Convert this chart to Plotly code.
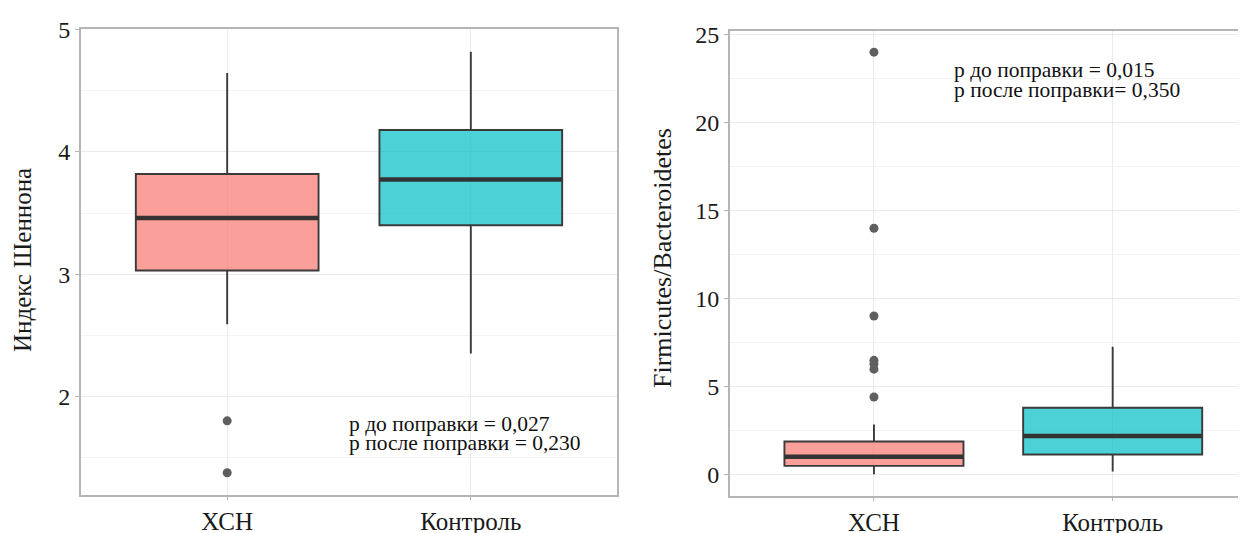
import plotly.graph_objects as go

# ---- data ----
categories = ["ХСН", "Контроль"]
colors_fill = ["rgba(248,118,109,0.7)", "rgba(0,191,196,0.7)"]

# Panel 1: Shannon index
sh_q1 = [3.03, 3.40]
sh_median = [3.46, 3.775]
sh_q3 = [3.82, 4.18]
sh_low = [2.59, 2.35]
sh_high = [4.646, 4.82]
sh_outliers = {"ХСН": [1.80, 1.375], "Контроль": []}

# Panel 2: Firmicutes/Bacteroidetes
fb_q1 = [0.51, 1.16]
fb_median = [1.03, 2.21]
fb_q3 = [1.89, 3.81]
fb_low = [0.04, 0.19]
fb_high = [2.86, 7.27]
fb_outliers = {"ХСН": [24.0, 14.0, 9.02, 6.5, 6.3, 6.0, 4.42], "Контроль": []}

p_text_1 = ["р до поправки = 0,027", "р после поправки = 0,230"]
p_text_2 = ["р до поправки = 0,015", "р после поправки= 0,350"]

FONT = "Liberation Serif"
LINE = "#3a3a3a"
BOX_W = 0.75
W, H = 1246, 533
OFF = 8  # page body margin offset

fig = go.Figure()
shapes = []


def add_panel(xa, ya, q1, med, q3, lo, hi, outl):
    for i, cat in enumerate(categories):
        fig.add_trace(go.Box(
            x=[cat], q1=[q1[i]], median=[med[i]], q3=[q3[i]],
            lowerfence=[lo[i]], upperfence=[hi[i]],
            fillcolor=colors_fill[i], line=dict(color=LINE, width=1.9),
            width=BOX_W, whiskerwidth=0, boxpoints=False,
            xaxis=xa, yaxis=ya, showlegend=False, hoverinfo="skip"))
        shapes.append(dict(type="line", xref=xa, yref=ya,
                           x0=i - BOX_W / 2, x1=i + BOX_W / 2,
                           y0=med[i], y1=med[i],
                           line=dict(color="#333333", width=4.5), layer="above"))
        if outl[cat]:
            fig.add_trace(go.Scatter(
                x=[cat] * len(outl[cat]), y=outl[cat], mode="markers",
                marker=dict(color="#5f5f5f", size=9),
                xaxis=xa, yaxis=ya, showlegend=False, hoverinfo="skip"))


add_panel("x", "y", sh_q1, sh_median, sh_q3, sh_low, sh_high, sh_outliers)
add_panel("x2", "y2", fb_q1, fb_median, fb_q3, fb_low, fb_high, fb_outliers)

GRID = "#ebebeb"
FRAME = "#b5b5b5"


def xdom(a, b):
    return [(a - OFF) / W, min(1.0, (b - OFF) / W)]


def ydom(top, bottom):
    return [1 - (bottom - OFF) / H, 1 - (top - OFF) / H]


xcommon = dict(type="category", categoryorder="array", categoryarray=categories,
               showgrid=True, gridcolor=GRID, gridwidth=1,
               showline=True, linecolor=FRAME, linewidth=2, mirror=True,
               ticks="outside", ticklen=3, tickcolor=FRAME,
               tickfont=dict(family=FONT, size=25, color="#1a1a1a"),
               zeroline=False, automargin=False)

ycommon = dict(showgrid=True, gridcolor=GRID, showline=True, linecolor=FRAME,
               linewidth=2, ticks="outside", ticklen=4, tickcolor=FRAME,
               tickfont=dict(family=FONT, size=24, color="#1a1a1a"),
               zeroline=False, automargin=False)

fig.update_layout(
    template="none",
    width=W, height=H,
    margin=dict(l=0, r=0, t=0, b=0),
    paper_bgcolor="white", plot_bgcolor="white",
    boxmode="overlay",
    xaxis=dict(domain=xdom(81, 617), range=[-0.6, 1.6], anchor="y", **xcommon),
    yaxis=dict(domain=ydom(29.4, 494.5), range=[1.197, 5.003], anchor="x",
               dtick=1, tick0=0, mirror=True,
               minor=dict(dtick=0.5, tick0=0, showgrid=True, gridcolor="#f3f3f3", ticklen=0),
               **ycommon),
    xaxis2=dict(domain=xdom(730, 1254), range=[-0.603, 1.592], anchor="y2", **xcommon),
    yaxis2=dict(domain=ydom(31, 496), range=[-1.2, 25.2], anchor="x2",
                dtick=5, tick0=0, mirror=False,
                minor=dict(dtick=2.5, tick0=0, showgrid=True, gridcolor="#f3f3f3", ticklen=0),
                **ycommon),
    shapes=shapes,
)

ann = []
# axis titles
ann.append(dict(text="Индекс Шеннона", xref="paper", yref="paper",
                x=(22 - OFF) / W, y=1 - (260 - OFF) / H, textangle=-90, showarrow=False,
                xanchor="center", yanchor="middle",
                font=dict(family=FONT, size=25, color="#1a1a1a")))
ann.append(dict(text="Firmicutes/Bacteroidetes", xref="paper", yref="paper",
                x=(662 - OFF) / W, y=1 - (258 - OFF) / H, textangle=-90, showarrow=False,
                xanchor="center", yanchor="middle",
                font=dict(family=FONT, size=26, color="#1a1a1a")))
# p-value texts
for txt, yv in zip(p_text_1, [1.774, 1.619]):
    ann.append(dict(text=txt, xref="x", yref="y", x=0.493, y=yv, showarrow=False,
                    xanchor="left", yanchor="middle",
                    font=dict(family=FONT, size=21.5, color="#111111")))
for txt, yv in zip(p_text_2, [22.98, 21.85]):
    ann.append(dict(text=txt, xref="x2", yref="y2", x=0.325, y=yv, showarrow=False,
                    xanchor="left", yanchor="middle",
                    font=dict(family=FONT, size=21.5, color="#111111")))
fig.update_layout(annotations=ann)

fig.write_html("out.html")
